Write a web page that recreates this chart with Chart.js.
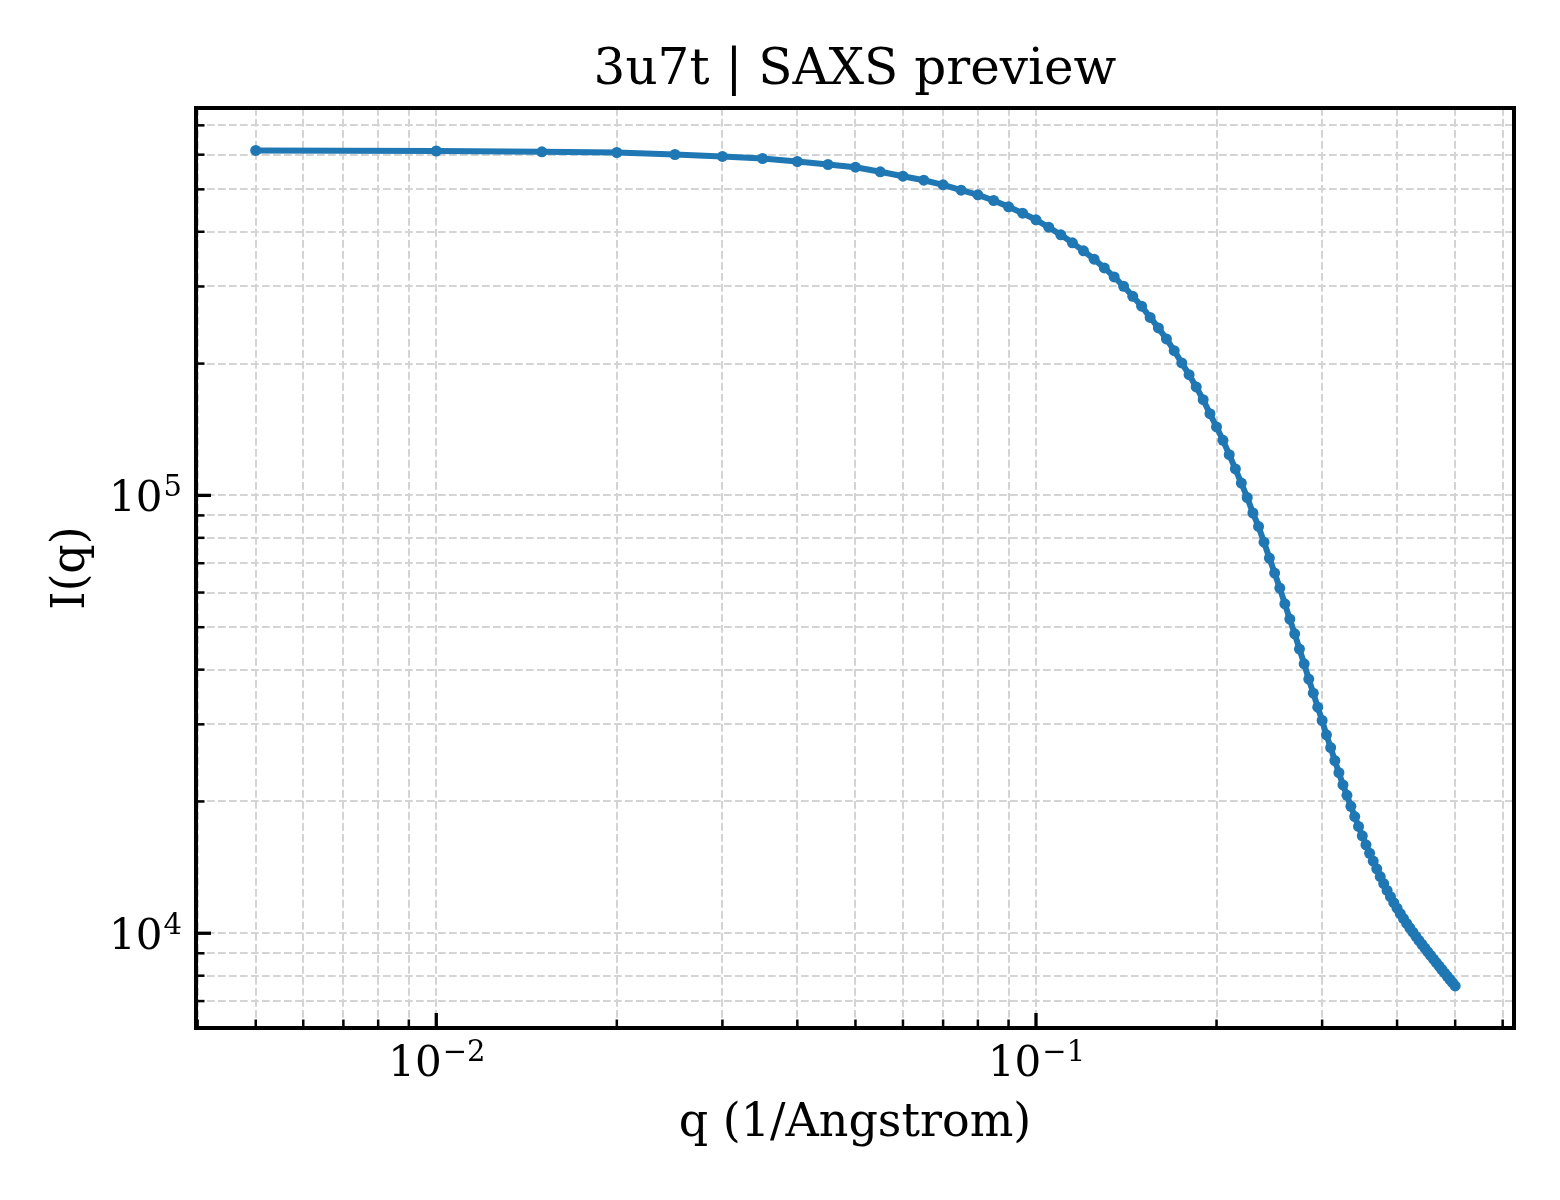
<!DOCTYPE html>
<html>
<head>
<meta charset="utf-8">
<script src="https://cdn.jsdelivr.net/npm/chart.js@4.4.1/dist/chart.umd.min.js"></script>
<style>
  body { margin: 0; background: #fff; }
  canvas { display: block; }
</style>
</head>
<body>
<canvas id="saxsChart" width="1560" height="1200"></canvas>
<script>
// scattering vector q (1/Angstrom)
const qValues = [
  0.005, 0.010, 0.015, 0.020, 0.025, 0.030, 0.035, 0.040, 0.045, 0.050,
  0.055, 0.060, 0.065, 0.070, 0.075, 0.080, 0.085, 0.090, 0.095, 0.100,
  0.105, 0.110, 0.115, 0.120, 0.125, 0.130, 0.135, 0.140, 0.145, 0.150,
  0.155, 0.160, 0.165, 0.170, 0.175, 0.180, 0.185, 0.190, 0.195, 0.200,
  0.205, 0.210, 0.215, 0.220, 0.225, 0.230, 0.235, 0.240, 0.245, 0.250,
  0.255, 0.260, 0.265, 0.270, 0.275, 0.280, 0.285, 0.290, 0.295, 0.300,
  0.305, 0.310, 0.315, 0.320, 0.325, 0.330, 0.335, 0.340, 0.345, 0.350,
  0.355, 0.360, 0.365, 0.370, 0.375, 0.380, 0.385, 0.390, 0.395, 0.400,
  0.405, 0.410, 0.415, 0.420, 0.425, 0.430, 0.435, 0.440, 0.445, 0.450,
  0.455, 0.460, 0.465, 0.470, 0.475, 0.480, 0.485, 0.490, 0.495, 0.500
];

// intensity I(q)
const intensity = [
  613400, 611700, 609100, 606900, 600500, 594300, 588000, 578800, 569800, 561700,
  548300, 535700, 524600, 512000, 497700, 485800, 471500, 456100, 441000, 426000,
  409700, 393600, 377400, 361800, 346300, 330800, 315500, 300300, 284900, 270400,
  255000, 241300, 227700, 214100, 200700, 188700, 176900, 165400, 153700, 143300,
  133600, 123900, 114900, 106700, 98900, 91160, 84940, 78180, 71940, 66480,
  61440, 56550, 52180, 48300, 44570, 41250, 38060, 35350, 32840, 30610,
  28390, 26550, 24790, 23260, 21820, 20650, 19490, 18470, 17540, 16690,
  15920, 15230, 14620, 14030, 13475, 12987, 12527, 12122, 11745, 11408,
  11086, 10804, 10533, 10291, 10056, 9841, 9632, 9438, 9248, 9072,
  8899, 8731, 8571, 8413, 8264, 8117, 7976, 7841, 7709, 7582
];

// axis ticks
const xMajorTicks = [0.01, 0.1];
const xTickExponents = ['\u22122', '\u22121'];
const xMinorTicks = [0.004, 0.005, 0.006, 0.007, 0.008, 0.009,
  0.02, 0.03, 0.04, 0.05, 0.06, 0.07, 0.08, 0.09,
  0.2, 0.3, 0.4, 0.5, 0.6];
const yMajorTicks = [1e4, 1e5];
const yTickExponents = ['4', '5'];
const yMinorTicks = [7000, 8000, 9000,
  20000, 30000, 40000, 50000, 60000, 70000, 80000, 90000,
  200000, 300000, 400000, 500000, 600000, 700000];

const titleText = '3u7t | SAXS preview';
const xLabel = 'q (1/Angstrom)';
const yLabel = 'I(q)';

const FONT = '"DejaVu Serif", "Liberation Serif", serif';

function setTicks(major, minor) {
  return function (scale) {
    scale.ticks = major.concat(minor).sort((a, b) => a - b).map(v => ({ value: v }));
  };
}

function drawPow(ctx, exp, x, baseY, align) {
  ctx.font = '42px ' + FONT;
  const w1 = ctx.measureText('10').width;
  ctx.font = '29px ' + FONT;
  const w2 = ctx.measureText(exp).width;
  const start = align === 'right' ? x - (w1 + w2) : x - (w1 + w2) / 2;
  ctx.textAlign = 'left';
  ctx.textBaseline = 'alphabetic';
  ctx.font = '42px ' + FONT;
  ctx.fillText('10', start, baseY);
  ctx.font = '29px ' + FONT;
  ctx.fillText(exp, start + w1 + 1, baseY - 15);
}

const axesDecor = {
  id: 'axesDecor',
  afterDraw(chart) {
    const { ctx, chartArea: a, scales: { x, y } } = chart;
    ctx.save();
    ctx.strokeStyle = '#000';
    ctx.fillStyle = '#000';
    ctx.lineCap = 'butt';

    const tick = (x1, y1, x2, y2, w) => {
      ctx.lineWidth = w;
      ctx.beginPath();
      ctx.moveTo(x1, y1);
      ctx.lineTo(x2, y2);
      ctx.stroke();
    };

    // inward ticks, bottom and left only
    xMinorTicks.forEach(v => {
      const px = x.getPixelForValue(v);
      tick(px, a.bottom, px, a.bottom - 8.5, 2.5);
    });
    xMajorTicks.forEach(v => {
      const px = x.getPixelForValue(v);
      tick(px, a.bottom, px, a.bottom - 15, 3.3);
    });
    yMinorTicks.forEach(v => {
      const py = y.getPixelForValue(v);
      tick(a.left, py, a.left + 8.5, py, 2.5);
    });
    yMajorTicks.forEach(v => {
      const py = y.getPixelForValue(v);
      tick(a.left, py, a.left + 15, py, 3.3);
    });

    // frame
    ctx.lineWidth = 4;
    ctx.strokeRect(a.left, a.top, a.right - a.left, a.bottom - a.top);

    // tick labels
    xMajorTicks.forEach((v, i) => {
      drawPow(ctx, xTickExponents[i], x.getPixelForValue(v), a.bottom + 48, 'center');
    });
    yMajorTicks.forEach((v, i) => {
      drawPow(ctx, yTickExponents[i], a.left - 15, y.getPixelForValue(v) + 16, 'right');
    });

    // title and axis labels
    ctx.textAlign = 'center';
    ctx.textBaseline = 'alphabetic';
    ctx.font = '50px ' + FONT;
    ctx.fillText(titleText, (a.left + a.right) / 2, a.top - 24);
    ctx.font = '46px ' + FONT;
    ctx.fillText(xLabel, (a.left + a.right) / 2, a.bottom + 108);
    ctx.save();
    ctx.translate(84, (a.top + a.bottom) / 2);
    ctx.rotate(-Math.PI / 2);
    ctx.fillText(yLabel, 0, 0);
    ctx.restore();

    ctx.restore();
  }
};

const ctx = document.getElementById('saxsChart').getContext('2d');
const saxsChart = new Chart(ctx, {
  type: 'scatter',
  data: {
    datasets: [{
      label: 'I(q)',
      data: qValues.map((q, i) => ({ x: q, y: intensity[i] })),
      showLine: true,
      borderColor: '#1f77b4',
      backgroundColor: '#1f77b4',
      borderWidth: 6,
      pointRadius: 5.5,
      pointBorderWidth: 0,
      pointBackgroundColor: '#1f77b4',
      borderJoinStyle: 'round'
    }]
  },
  options: {
    responsive: false,
    devicePixelRatio: 1,
    animation: false,
    layout: { padding: { left: 0, right: 46, top: 108, bottom: 0 } },
    plugins: {
      legend: { display: false },
      title: { display: false },
      tooltip: { enabled: false }
    },
    scales: {
      x: {
        type: 'logarithmic',
        min: 0.003975,
        max: 0.6267,
        afterBuildTicks: setTicks(xMajorTicks, xMinorTicks),
        afterFit(scale) { scale.height = 172; },
        ticks: { display: false },
        grid: { color: '#d4d4d4', lineWidth: 2, drawTicks: false },
        border: { display: false, dash: [7.7, 3.3] }
      },
      y: {
        type: 'logarithmic',
        min: 6076,
        max: 766900,
        afterBuildTicks: setTicks(yMajorTicks, yMinorTicks),
        afterFit(scale) { scale.width = 196; },
        ticks: { display: false },
        grid: { color: '#d4d4d4', lineWidth: 2, drawTicks: false },
        border: { display: false, dash: [7.7, 3.3] }
      }
    }
  },
  plugins: [axesDecor]
});
</script>
</body>
</html>
